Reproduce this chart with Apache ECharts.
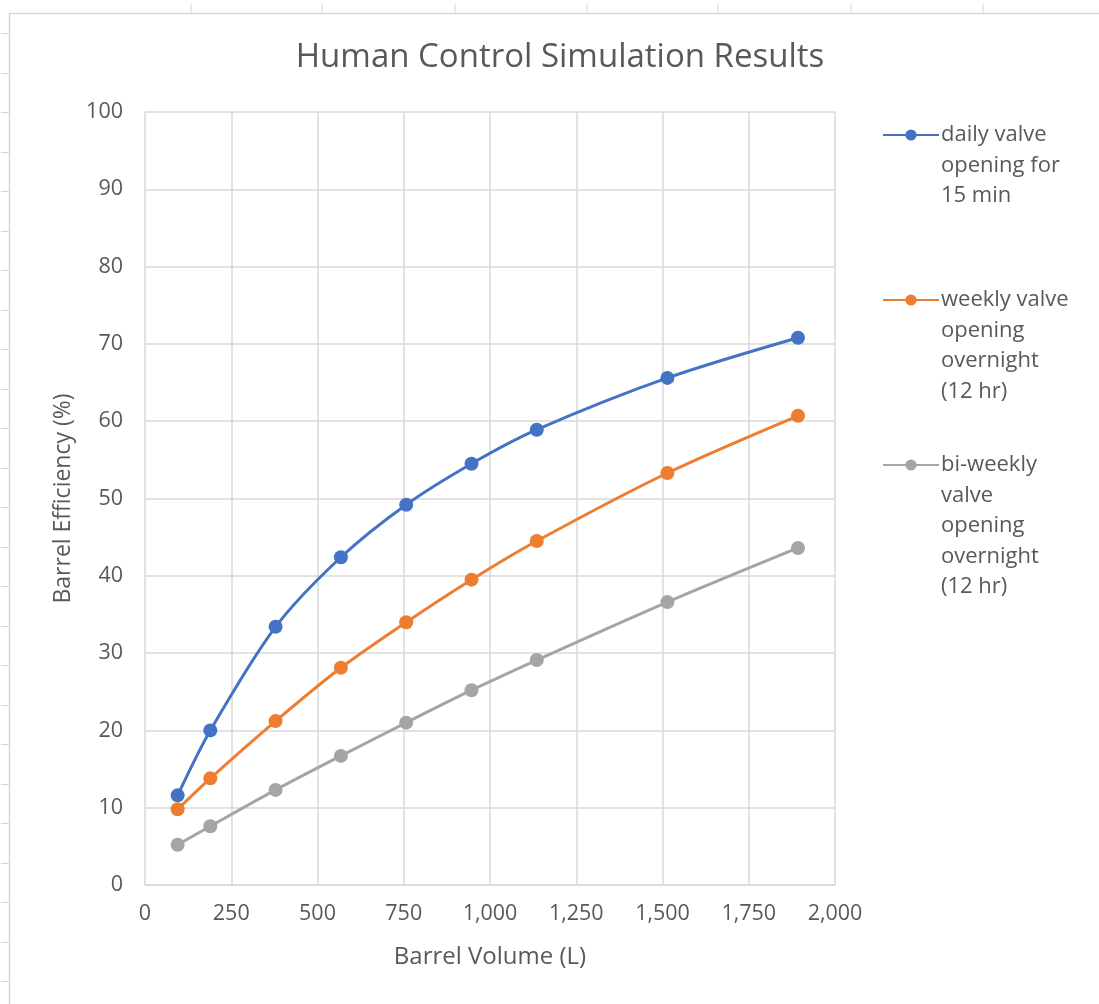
<!DOCTYPE html>
<html>
<head>
<meta charset="utf-8">
<script src="https://cdn.jsdelivr.net/npm/echarts@6/dist/echarts.min.js"></script>
<style>html,body{margin:0;padding:0;background:#fff;}#c{width:1099px;height:1004px;}</style>
</head>
<body>
<div id="c"></div>
<script>
const volumes = [94.6, 189.3, 378.5, 567.8, 757.1, 946.4, 1135.6, 1514.2, 1892.7];
const daily = [11.6, 20.0, 33.4, 42.4, 49.2, 54.5, 58.9, 65.6, 70.8];
const weekly = [9.8, 13.8, 21.2, 28.1, 34.0, 39.5, 44.5, 53.3, 60.7];
const biweekly = [5.2, 7.6, 12.3, 16.7, 21.0, 25.2, 29.1, 36.6, 43.6];
const seriesNames = ['daily valve opening for 15 min', 'weekly valve opening overnight (12 hr)', 'bi-weekly valve opening overnight (12 hr)'];
const legendLines = [
  ['daily valve', 'opening for', '15 min'],
  ['weekly valve', 'opening', 'overnight', '(12 hr)'],
  ['bi-weekly', 'valve', 'opening', 'overnight', '(12 hr)']
];
const colors = ['#4472C4', '#ED7D31', '#A5A5A5'];
const FONT = 'Open Sans';
const LH = 30.5;
const iconCenters = [135, 300, 465];

function pairs(ys) { return volumes.map((x, i) => [x, ys[i]]); }

const chart = echarts.init(document.getElementById('c'));

const legends = seriesNames.map((name, i) => {
  const n = legendLines[i].length;
  const total = (2 * n - 1) * LH;
  return {
    data: [name],
    left: 882,
    top: iconCenters[i] - total / 2,
    padding: 0,
    itemWidth: 56,
    itemHeight: 14,
    itemGap: 0,
    formatter: () => '\n'.repeat(n - 1) + legendLines[i].join('\n'),
    textStyle: { color: '#595959', fontSize: 22, fontFamily: FONT, lineHeight: LH, padding: [0, 0, 0, -3] }
  };
});

const deco = [];
deco.push({ type: 'line', shape: { x1: 9, y1: 13.5, x2: 1099, y2: 13.5 }, style: { stroke: '#d6d6d6', lineWidth: 1.5 }, silent: true });
deco.push({ type: 'line', shape: { x1: 9.5, y1: 13, x2: 9.5, y2: 1004 }, style: { stroke: '#d6d6d6', lineWidth: 1.5 }, silent: true });
[191, 322, 455, 587, 718, 851, 983].forEach(x => {
  deco.push({ type: 'line', shape: { x1: x, y1: 4, x2: x, y2: 13 }, style: { stroke: '#d6d6d6', lineWidth: 1 }, silent: true });
});
for (let y = 33; y < 1004; y += 39.5) {
  deco.push({ type: 'line', shape: { x1: 1, y1: Math.round(y) + 0.5, x2: 9, y2: Math.round(y) + 0.5 }, style: { stroke: '#d6d6d6', lineWidth: 1 }, silent: true });
}

chart.setOption({
  backgroundColor: '#fff',
  animation: false,
  color: colors,
  title: {
    text: 'Human Control Simulation Results',
    left: 555, top: 36, textAlign: 'center',
    textStyle: { color: '#595959', fontSize: 33, fontWeight: 'normal', fontFamily: FONT }
  },
  legend: legends,
  grid: { left: 145, right: 264, top: 112, bottom: 119 },
  xAxis: {
    type: 'value', min: 0, max: 2000, interval: 250,
    name: 'Barrel Volume (L)', nameLocation: 'middle', nameGap: 60,
    nameTextStyle: { color: '#595959', fontSize: 24, fontFamily: FONT },
    axisLine: { show: true, lineStyle: { color: '#d9d9d9', width: 1.5 } },
    axisTick: { show: false },
    splitLine: { show: true, lineStyle: { color: '#d9d9d9', width: 1.5 } },
    axisLabel: { color: '#595959', fontSize: 21.5, fontFamily: FONT, margin: 18,
      formatter: v => v.toLocaleString('en-US') }
  },
  yAxis: {
    type: 'value', min: 0, max: 100, interval: 10,
    name: 'Barrel Efficiency (%)', nameLocation: 'middle', nameGap: 70, nameRotate: 90,
    nameTextStyle: { color: '#595959', fontSize: 23, fontFamily: FONT },
    axisLine: { show: false }, axisTick: { show: false },
    splitLine: { show: true, lineStyle: { color: '#d9d9d9', width: 1.5 } },
    axisLabel: { color: '#595959', fontSize: 21.5, fontFamily: FONT, margin: 22 }
  },
  series: [daily, weekly, biweekly].map((d, i) => ({
    name: seriesNames[i], type: 'line', data: pairs(d), smooth: 0.3,
    symbol: 'circle', symbolSize: 14,
    lineStyle: { width: 3, color: colors[i] },
    itemStyle: { color: colors[i] }
  })),
  graphic: deco
});
</script>
</body>
</html>
